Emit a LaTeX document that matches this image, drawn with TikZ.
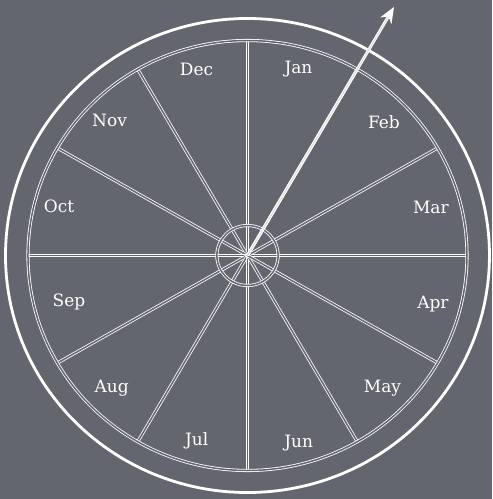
\documentclass[tikz,border=0pt]{standalone}
\usepackage{fontspec}
\setmainfont{DejaVu Serif}
\usetikzlibrary{arrows.meta, calc}
\definecolor{slate}{RGB}{99,102,110}

\begin{document}
\begin{tikzpicture}[
    x=1.021pt, y=1pt,
    >={Stealth[length=16pt, width=13pt, inset=5pt]},
    rim/.style    ={draw=white, line width=2.8pt},
    twin/.style   ={draw=white, line width=0.8pt, double=slate, double distance=1.5pt},
    month/.style  ={text=white, font=\fontsize{17}{20}\selectfont, inner sep=0pt},
    pointer/.style={->, draw=white, line width=0.9pt, double=white!80!slate, double distance=1.2pt},
]
% background and frame of the picture
\fill[slate] (-242.4,255.5) rectangle (239.5,-243.5);
\coordinate (c) at (0,0);

% spokes, one between each pair of months
\foreach \a in {0,30,...,330}
  \draw[twin] (c) -- (\a:215) coordinate (s-\a);

\draw[twin] (c) circle[radius=215];
\draw[twin] (c) circle[radius=30];
\draw[rim]  (c) circle[radius=237];

% month names, clockwise from the top
\foreach \m/\r [count=\i from 0] in {Jan/193, Feb/189, Mar/186, Apr/188, May/187, Jun/194,
                                    Jul/192, Aug/188, Sep/181, Oct/191, Nov/191, Dec/193}
  \node[month] (m-\i) at ({75-30*\i}:\r) {\m};

% pointer
\coordinate (tip) at (60:287);
\draw[pointer] (c) -- (tip);
\end{tikzpicture}
\end{document}
